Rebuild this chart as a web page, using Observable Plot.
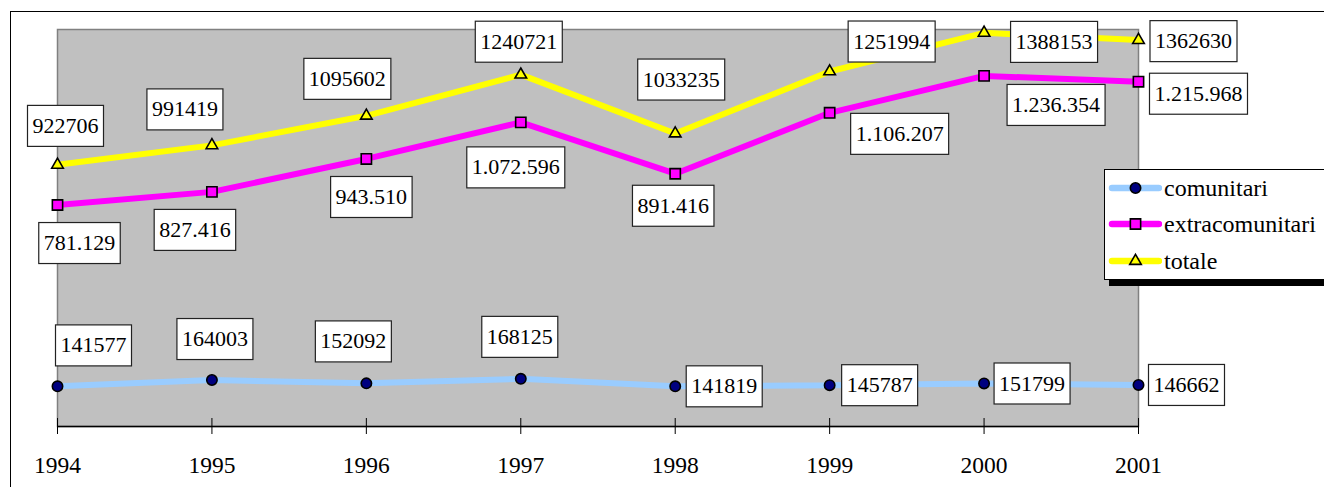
<!DOCTYPE html>
<html>
<head>
<meta charset="utf-8">
<script src="https://cdn.jsdelivr.net/npm/d3@7"></script>
<script src="https://cdn.jsdelivr.net/npm/@observablehq/plot@0.6"></script>
<style>
  html, body { margin: 0; padding: 0; background: #fff; overflow: hidden; }
  #wrap { position: relative; width: 1324px; height: 487px; overflow: hidden; font-family: "Liberation Serif", "Times New Roman", serif; }
  #outer { position: absolute; left: 10px; top: 11px; width: 1400px; height: 600px; border: 1px solid #000; box-sizing: border-box; pointer-events: none; }
  #chart { position: absolute; left: 0; top: 0; }
  #legend { position: absolute; left: 1104px; top: 169px; width: 260px; height: 111px; box-sizing: border-box; border: 1px solid #000; background: #fff; box-shadow: 5px 6px 0 #000; }
  .lrow { position: absolute; left: 3px; height: 30px; display: flex; align-items: center; font-size: 24px; color: #000; }
  .lrow svg { margin-right: 2px; }
</style>
</head>
<body>
<div id="wrap">
  <div id="outer"></div>
  <div id="chart"></div>
  <div id="legend"></div>
</div>
<script>
// ---- data ----
const years = [1994, 1995, 1996, 1997, 1998, 1999, 2000, 2001];
const comunitari = [141577, 164003, 152092, 168125, 141819, 145787, 151799, 146662];
const extracomunitari = [781129, 827416, 943510, 1072596, 891416, 1106207, 1236354, 1215968];
const totale = [922706, 991419, 1095602, 1240721, 1033235, 1251994, 1388153, 1362630];
const seriesNames = ["comunitari", "extracomunitari", "totale"];

// ---- layout (label offsets in px relative to each point) ----
const labelOffsets = {
  comunitari: {dx: [36, 3, -13, -1, 49, 50, 48, 48], dy: [-41, -41, -42, -42, 0, 0, 0, 0]},
  extracomunitari: {dx: [22, -17, 5, -5, -2, 70, 72, 60], dy: [38, 38, 38, 45, 32, 21, 29, 12]},
  totale: {dx: [8, -27, -19, -2, 6, 62, 70, 55], dy: [-39, -36, -37, -33, -54, -30, 9, 1]}
};

const dotFmt = v => d3.format(",")(v).replace(/,/g, ".");
const styles = {
  comunitari: {line: "#99CCFF", fill: "#000080", symbol: "circle", r: 5.2, fmt: v => String(v)},
  extracomunitari: {line: "#FF00FF", fill: "#FF00FF", symbol: "square", r: 5.8, fmt: dotFmt},
  totale: {line: "#FFFF00", fill: "#FFFF00", symbol: "triangle", r: 4.3, fmt: v => String(v)}
};
const values = {comunitari, extracomunitari, totale};

const rows = seriesNames.flatMap(s => years.map((y, i) => ({series: s, year: y, value: values[s][i], i})));

const font = "Liberation Serif, Times New Roman, serif";
const marks = [
  Plot.frame({fill: "#C0C0C0", stroke: "#808080", strokeWidth: 1.5}),
  Plot.ruleY([0], {stroke: "#000", strokeWidth: 1.3}),
  Plot.axisX({ticks: years, tickFormat: () => "", tickSize: 16, dy: -8, stroke: "#000", label: null}),
  Plot.axisX({ticks: years, tickFormat: d => String(d), tickSize: 0, tickPadding: 30, fontSize: 23.5, fontFamily: font, fill: "#000", label: null})
];
for (const s of seriesNames) {
  const data = rows.filter(d => d.series === s);
  marks.push(Plot.line(data, {x: "year", y: "value", stroke: styles[s].line, strokeWidth: 6, strokeLinejoin: "miter"}));
}
for (const s of seriesNames) {
  const data = rows.filter(d => d.series === s);
  marks.push(Plot.dot(data, {x: "year", y: "value", symbol: styles[s].symbol, r: styles[s].r, fill: styles[s].fill, stroke: "#000", strokeWidth: 1.6}));
}
for (const d of rows) {
  const off = labelOffsets[d.series];
  marks.push(Plot.text([d], {
    x: "year", y: "value", text: v => styles[v.series].fmt(v.value),
    dx: off.dx[d.i], dy: off.dy[d.i], fontSize: 22, fontFamily: font, fill: "#000",
    className: "vlabel"
  }));
}

const chart = Plot.plot({
  width: 1324, height: 487,
  marginLeft: 57, marginRight: 186, marginTop: 29, marginBottom: 61,
  style: {background: "transparent", fontFamily: font, overflow: "visible"},
  x: {type: "linear", domain: [1994, 2001], axis: null, label: null},
  y: {domain: [0, 1400000], axis: null, label: null},
  marks
});
document.getElementById("chart").appendChild(chart);

// white boxes behind value labels
chart.querySelectorAll("g.vlabel text").forEach(t => {
  const b = t.getBBox();
  const cy = b.y + b.height / 2 + 0.5;
  const r = document.createElementNS("http://www.w3.org/2000/svg", "rect");
  r.setAttribute("x", b.x - 5);
  r.setAttribute("y", cy - 20.5);
  r.setAttribute("width", b.width + 10);
  r.setAttribute("height", 41);
  r.setAttribute("fill", "#fff");
  r.setAttribute("stroke", "#222");
  r.setAttribute("stroke-width", 1.2);
  const tr = t.getAttribute("transform");
  if (tr) r.setAttribute("transform", tr);
  t.parentNode.insertBefore(r, t);
});

// legend
const legend = document.getElementById("legend");
const symPath = {circle: d3.symbolCircle, square: d3.symbolSquare, triangle: d3.symbolTriangle};
const rowTops = [3, 39, 76];
seriesNames.forEach((s, k) => {
  const st = styles[s];
  const div = document.createElement("div");
  div.className = "lrow";
  div.style.top = rowTops[k] + "px";
  const path = d3.symbol(symPath[st.symbol], Math.PI * st.r * st.r)();
  div.innerHTML = `<svg width="54" height="30" viewBox="0 0 54 30">
    <line x1="4" y1="15" x2="51" y2="15" stroke="${st.line}" stroke-width="6.5" stroke-linecap="round"/>
    <path d="${path}" transform="translate(27.5,15)" fill="${st.fill}" stroke="#000" stroke-width="1.6"/>
  </svg><span>${s}</span>`;
  legend.appendChild(div);
});
</script>
</body>
</html>
